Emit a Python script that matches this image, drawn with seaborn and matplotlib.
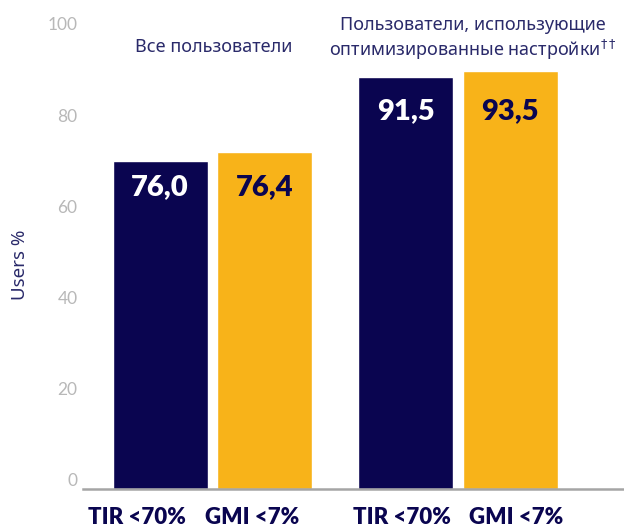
import matplotlib
matplotlib.use("Agg")
import matplotlib.pyplot as plt
import matplotlib.transforms as mtransforms
import seaborn as sns
import pandas as pd

# data
groups = ["Все пользователи", "Оптимизированные настройки"]
metrics = ["TIR <70%", "GMI <7%"]
# drawn bar heights (as they sit in the picture) and the printed values
bar_heights = [[72.1, 74.0], [90.5, 91.8]]
bar_labels = [["76,0", "76,4"], ["91,5", "93,5"]]
group_titles = ["Все пользователи",
                "Пользователи, использующие\nоптимизированные настройки$^{\\dagger\\dagger}$"]

navy = "#0a0550"
gold = "#f8b319"
text_navy = "#2a2a6a"

rows = []
for gi, g in enumerate(groups):
    for mi, m in enumerate(metrics):
        rows.append({"group": g, "metric": m, "value": bar_heights[gi][mi]})
df = pd.DataFrame(rows)

sns.set_style("white")
plt.rcParams["font.family"] = ["Lato", "Noto Sans", "DejaVu Sans"]

fig = plt.figure(figsize=(6.24, 5.27), dpi=100)
ax = fig.add_axes([0.133, 0.0721, 0.867, 0.9279])

sns.barplot(data=df, x="group", y="value", hue="metric", order=groups,
            hue_order=metrics, palette={metrics[0]: navy, metrics[1]: gold},
            width=0.85, gap=0.087, saturation=1, legend=False, ax=ax)

ax.set_xlim(-0.527, 1.676)
ax.set_ylim(0, 107.35)
ax.set_yticks([0, 20, 40, 60, 80, 100])
ax.tick_params(axis="y", length=0, pad=4, labelsize=12.5, labelcolor="#b8b8b8")
# tick labels sit a bit above the baseline in the original
shift = mtransforms.ScaledTranslation(0, 9.5 / 100, fig.dpi_scale_trans)
for t in ax.get_yticklabels():
    t.set_transform(t.get_transform() + shift)
ax.set_xticks([])
ax.set_xlabel("")
ax.set_ylabel("")
fig.text(0.032, 0.497, "Users %", rotation=90, ha="center", va="center",
         color=text_navy, fontsize=13.5, family=["Noto Sans", "DejaVu Sans"])

for s in ["left", "right", "top"]:
    ax.spines[s].set_visible(False)
ax.spines["bottom"].set_color("#a5a5a5")
ax.spines["bottom"].set_linewidth(1.8)

# value labels inside the bars
label_y = [66.3, 83.0]
for mi, cont in enumerate(ax.containers):
    for gi, bar in enumerate(cont):
        cx = bar.get_x() + bar.get_width() / 2
        ax.text(cx, label_y[gi], bar_labels[gi][mi], ha="center", va="center",
                fontsize=21, fontweight="heavy",
                color="white" if mi == 0 else navy)

# category labels under the bars
cat_x = [[-0.308, 0.161], [0.772, 1.236]]
for gi in range(len(groups)):
    for mi, m in enumerate(metrics):
        ax.text(cat_x[gi][mi], -6.15, m, ha="center", va="center",
                fontsize=16, fontweight="heavy", color=navy, clip_on=False)

# group titles
ax.text(0.006, 97.0, group_titles[0], ha="center", va="center",
        fontsize=13, color=text_navy, family=["Noto Sans", "DejaVu Sans"])
ax.text(1.061, 98.8, group_titles[1], ha="center", va="center",
        fontsize=13, color=text_navy, linespacing=1.2,
        family=["Noto Sans", "DejaVu Sans"])

fig.savefig("out.png", dpi=100)
